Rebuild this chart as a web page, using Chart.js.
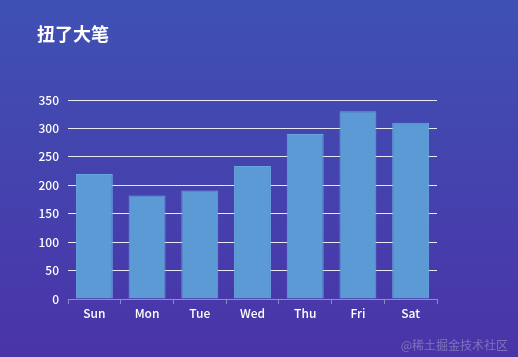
<!DOCTYPE html>
<html><head><meta charset="utf-8">
<script src="https://cdn.jsdelivr.net/npm/chart.js@4/dist/chart.umd.min.js"></script>
<style>html,body{margin:0;padding:0;background:#3f47b0;}#wrap{width:518px;height:357px;position:relative;}</style>
</head><body><div id="wrap"><canvas id="c" width="518" height="357"></canvas></div>
<script>
const categories = ['Sun','Mon','Tue','Wed','Thu','Fri','Sat'];
const values = [220, 182, 191, 234, 290, 330, 310];
const titleText = '扭了大笔';
const watermarkText = '@稀土掘金技术社区';

const bgPlugin = {
  id: 'bg',
  beforeDraw(chart) {
    const ctx = chart.ctx;
    const g = ctx.createLinearGradient(0, 0, 0, chart.height);
    g.addColorStop(0, '#3f51b4');
    g.addColorStop(1, '#4a34a8');
    ctx.save();
    ctx.fillStyle = g;
    ctx.fillRect(0, 0, chart.width, chart.height);
    ctx.restore();
  },
  afterDraw(chart) {
    const ctx = chart.ctx;
    ctx.save();
    ctx.fillStyle = '#ffffff';
    ctx.font = 'bold 18px "Noto Sans CJK SC", sans-serif';
    ctx.textBaseline = 'middle';
    ctx.textAlign = 'left';
    ctx.fillText(titleText, 37, 34);
    ctx.fillStyle = 'rgba(190,190,215,0.45)';
    ctx.font = '12px "Noto Sans CJK SC", sans-serif';
    ctx.textAlign = 'right';
    ctx.fillText(watermarkText, 508, 345);
    ctx.restore();
  }
};

new Chart(document.getElementById('c'), {
  type: 'bar',
  data: {
    labels: categories,
    datasets: [{
      data: values,
      backgroundColor: '#5b9ad4',
      borderColor: '#6aa6e0',
      borderWidth: 1,
      categoryPercentage: 0.7,
      barPercentage: 1
    }]
  },
  options: {
    responsive: false,
    animation: false,
    layout: { padding: { top: 100, right: 81, bottom: 28, left: 0 } },
    plugins: { legend: { display: false }, tooltip: { enabled: false } },
    scales: {
      x: {
        afterFit(s) { s.height = 30; },
        offset: true,
        grid: { offset: true, drawOnChartArea: false, drawTicks: true, tickLength: 5, color: '#8c8cc4' },
        border: { display: true, color: '#8c8cc4' },
        ticks: { color: '#ffffff', font: { size: 12, weight: '500', family: '"Noto Sans CJK SC", sans-serif' }, padding: 2 }
      },
      y: {
        afterFit(s) { s.width = 68; },
        min: 0, max: 350,
        ticks: { stepSize: 50, color: '#ffffff', padding: 9, font: { size: 12, weight: '500', family: '"Noto Sans CJK SC", sans-serif' } },
        grid: { drawTicks: false, color: (c) => c.tick && c.tick.value === 0 ? 'rgba(0,0,0,0)' : '#e8e8f4', lineWidth: 1 },
        border: { display: false }
      }
    }
  },
  plugins: [bgPlugin]
});
</script></body></html>
